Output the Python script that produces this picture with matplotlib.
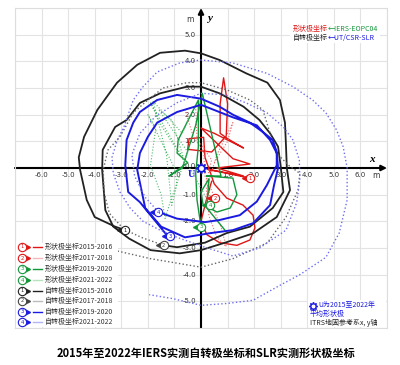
import matplotlib
matplotlib.use('Agg')
import matplotlib.pyplot as plt
from matplotlib.lines import Line2D
from matplotlib.patches import Rectangle
import matplotlib.transforms as mtransforms

plt.rcParams['font.family'] = ['Noto Sans CJK SC', 'DejaVu Sans']

# ---------------- data (metres) ----------------
x_ticks = [-6, -5, -4, -3, -2, -1, 1, 2, 3, 4, 5, 6]
y_ticks = [5, 4, 3, 2, 1, 0, -1, -2, -3, -4, -5]

# shape pole (SLR)
shape_1516_x = [1.84, 0.25, 1.6, 0.6, 1.84, 1.2, 0.0, 0.5, 1.6, 1.0, 0.72, 0.72, 0.85, 1.0, 0.95, 0.4, -0.5, -0.45, 0.1, 0.15, 0.5, 0.97, 1.58, 1.96, 2.03, 1.84, 1.35, 0.7, 0.22, 0.0, 0.2, 0.4]
shape_1516_y = [-0.38, -0.05, -0.3, 0.0, 0.15, 0.35, 1.5, 1.3, 0.75, 1.1, 1.3, 2.4, 3.38, 2.4, 1.2, 0.6, 0.7, 1.1, 1.15, 0.4, -0.6, -1.13, -1.39, -1.77, -2.25, -2.7, -2.9, -2.8, -2.5, -2.0, -1.2, -0.5]
shape_1718_x = [0.53, 0.15, 0.1, -0.3, -0.6, -0.2, -0.15, 0.4, 0.2, 0.45, 0.75, 0.95, 0.6, 0.3, 0.2, 0.6, 1.2, 1.0, 0.5]
shape_1718_y = [-1.13, -0.3, 0.6, 1.2, 2.2, 2.3, 1.1, 0.3, -0.5, -1.5, -2.2, -2.95, -2.6, -1.8, -0.8, 0.5, 1.7, 1.0, 0.2]
shape_1920_x = [0.0, -0.15, -0.2, -0.1, -0.1, -0.53, -0.86, -0.9, -0.5, -1.2, -0.7, -0.2, 0.05, 0.6, 0.75, 0.2, 1.2, 1.35, 1.1, 0.6, 0.08, 0.0, 0.3, 0.22, 0.9]
shape_1920_y = [-2.2, -1.2, -0.2, 0.8, 2.55, 1.7, 1.05, 0.56, 0.2, -0.3, 0.0, 1.6, 2.8, 0.4, -0.3, -0.3, -0.38, -1.0, -1.5, -1.65, -1.39, -0.9, -0.4, -1.5, -2.33]
shape_2122_x = [0.34, -0.3, -1.0, -1.9, -1.5, -0.6, -1.1, -1.6, -0.5, -1.2, -1.35, -1.5, -1.9, -1.7, -2.0, -1.0, -0.9, -1.1, -1.3, -1.8, -0.7, -0.4]
shape_2122_y = [-1.39, -0.2, 0.9, 2.44, 1.6, 0.2, 1.8, 2.2, 0.6, -1.4, -1.9, -1.0, 0.1, 1.5, 2.0, 0.0, -0.6, -1.4, 0.5, 2.5, 1.3, 2.0]

# rotation pole (IERS)
rot_1516_x = [-2.85, -3.23, -4.0, -4.3, -4.55, -4.6, -4.4, -3.9, -3.16, -2.4, -1.54, -0.6, 0.0, 0.7, 1.7, 2.5, 2.97, 3.16, 3.2, 3.23, 3.35, 2.85, 1.96, 0.97, 0.0, -0.8, -1.9, -2.7, -3.3, -3.6, -3.72, -3.7, -3.23, -2.8, -2.3, -1.54, -0.53, 0.0, 0.7, 1.6, 2.2, 2.6, 2.9, 3.0, 3.1, 2.7, 1.84, 0.97, 0.15, -0.9, -1.4]
rot_1516_y = [-2.33, -2.2, -1.84, -1.2, -0.07, 0.4, 1.17, 2.18, 3.2, 3.87, 4.32, 4.4, 4.3, 4.05, 3.55, 3.2, 2.55, 1.7, 0.8, 0.0, -0.83, -1.84, -2.45, -2.78, -3.08, -3.2, -3.08, -2.65, -2.2, -1.58, -0.07, 0.68, 1.54, 1.8, 2.44, 2.8, 3.05, 3.05, 2.8, 2.3, 1.8, 1.3, 0.8, 0.05, -0.9, -1.5, -2.2, -2.44, -2.8, -2.97, -2.9]
rot_1718_x = [-1.4, -2.2, -2.9, -3.45, -3.65, -3.68, -3.5, -3.05, -2.55, -2.0, -1.43, -0.53, 0.0, 0.97, 1.84, 2.33, 2.6, 2.8, 3.3, 3.72, 3.65, 3.2, 2.5, 1.2, 0.0, -1.9, -3.2, -3.8]
rot_1718_y = [-2.9, -2.62, -2.3, -1.7, -0.9, -0.07, 0.68, 1.17, 2.07, 2.55, 3.0, 3.2, 3.2, 2.93, 2.55, 2.18, 1.3, 0.6, 0.1, -0.2, -0.83, -1.84, -2.8, -3.4, -3.72, -3.4, -3.1, -2.97]
rot_1920_x = [-1.17, -1.35, -1.65, -1.9, -2.3, -2.74, -2.85, -2.8, -2.55, -2.3, -1.65, -0.9, 0.0, 0.7, 1.2, 1.84, 2.33, 2.7, 2.85, 2.9, 2.75, 2.6, 1.96, 1.2, 0.3, -0.6, -1.5, -2.1, -2.4, -2.3, -2.0, -1.65, -0.9, 0.0, 1.2, 2.1, 2.6, 2.85, 2.85, 2.48, 2.1, 1.46, 0.7, 0.15, -0.9, -1.6]
rot_1920_y = [-2.55, -2.44, -2.07, -1.77, -1.28, -0.9, 0.1, 1.05, 1.7, 2.1, 2.55, 2.74, 2.6, 2.3, 2.0, 1.7, 1.35, 1.05, 0.6, 0.0, -0.64, -1.39, -2.07, -2.33, -2.45, -2.6, -2.2, -1.5, -0.07, 0.56, 1.17, 1.7, 2.1, 2.37, 1.9, 1.6, 1.05, 0.56, 0.1, -0.64, -1.26, -1.77, -1.95, -2.03, -1.9, -1.65]
rot_2122_x = [-1.6, -2.1, -2.5, -2.6, -2.3, -1.7, -0.9, 0.0, 0.9, 1.7, 2.48, 3.1, 3.46, 3.7, 3.72, 3.6, 3.2, 2.2, 1.2, 0.08, -0.9, -1.54, -2.18, -2.67, -3.05, -3.3, -3.35, -3.15, -2.9, -2.55, -2.18, -1.65, -0.8, 0.0, 1.2, 2.48, 3.46, 4.2, 4.7, 5.1, 5.35, 5.5, 5.5, 5.2, 4.7, 3.72, 2.97, 1.96, 0.97, 0.0, -1.05, -1.95]
rot_2122_y = [-1.65, -1.1, -0.3, 0.5, 1.3, 1.95, 2.45, 2.8, 2.75, 2.44, 2.07, 1.54, 1.05, 0.3, -0.45, -1.3, -2.33, -3.0, -3.3, -2.95, -2.6, -2.33, -2.0, -1.5, -0.9, -0.2, 0.4, 1.05, 1.54, 2.55, 3.05, 3.6, 3.94, 4.05, 3.94, 3.55, 3.05, 2.55, 2.07, 1.43, 0.8, 0.0, -1.2, -2.44, -3.35, -4.0, -4.4, -4.96, -5.08, -5.15, -4.9, -4.75]

legend_labels = ['形状极坐标2015-2016', '形状极坐标2017-2018', '形状极坐标2019-2020', '形状极坐标2021-2022',
                 '自转极坐标2015-2016', '自转极坐标2017-2018', '自转极坐标2019-2020', '自转极坐标2021-2022']
marker_numbers = ['1', '2', '3', '4', '1', '2', '3', '4']

series = [
    (shape_1516_x, shape_1516_y, '#e01515', '-', 1.0, '#e01515', '#e01515'),
    (shape_1718_x, shape_1718_y, '#ec6a6a', ':', 0.8, '#f4b8b8', '#e01515'),
    (shape_1920_x, shape_1920_y, '#13963a', '-', 1.0, '#13963a', '#13963a'),
    (shape_2122_x, shape_2122_y, '#4fb86a', ':', 0.8, '#b6e2c0', '#13963a'),
    (rot_1516_x, rot_1516_y, '#222222', '-', 1.3, '#222222', '#222222'),
    (rot_1718_x, rot_1718_y, '#666666', ':', 1.0, '#bbbbbb', '#444444'),
    (rot_1920_x, rot_1920_y, '#1a1ae0', '-', 1.4, '#1a1ae0', '#1a1ae0'),
    (rot_2122_x, rot_2122_y, '#6f6ff0', ':', 1.0, '#b5b5f5', '#1a1ae0'),
]

W, H = 400, 365
fig = plt.figure(figsize=(W / 100, H / 100), dpi=100)
ax = fig.add_axes([15 / W, 1 - 328 / H, 372 / W, 320 / H])
ax.set_xlim(-7, 7)
ax.set_ylim(-6, 6)
ax.set_xticks(range(-7, 8))
ax.set_yticks(range(-6, 7))
ax.tick_params(length=0, labelbottom=False, labelleft=False)
ax.grid(True, color='#e3e3e3', lw=0.8, zorder=0)
ax.set_axisbelow(True)
for s in ax.spines.values():
    s.set_color('#dddddd')
    s.set_linewidth(0.8)

# axes lines with arrows
ax.annotate('', xy=(7, 0), xytext=(-7, 0),
            arrowprops=dict(arrowstyle='-|>', lw=1.5, color='black', mutation_scale=8, shrinkA=0, shrinkB=0), zorder=2)
ax.annotate('', xy=(0, 6), xytext=(0, -6),
            arrowprops=dict(arrowstyle='-|>', lw=1.5, color='black', mutation_scale=8, shrinkA=0, shrinkB=0), zorder=2)

tfs = 5
for t in x_ticks:
    ax.text(t, -0.27, f'{t:.1f}', ha='center', va='center', fontsize=tfs, color='#333333', family='DejaVu Sans', zorder=1)
for t in y_ticks:
    ax.text(-0.42, t + (0.08 if t == 0 else 0), f'{t:.1f}', ha='center', va='center', fontsize=tfs, color='#333333', family='DejaVu Sans', zorder=1)
ax.text(6.6, -0.27, 'm', ha='center', va='center', fontsize=5.5, color='#333333', family='DejaVu Sans')
ax.text(-0.42, 5.55, 'm', ha='center', va='center', fontsize=5.5, color='#333333', family='DejaVu Sans')
ax.text(6.45, 0.32, 'x', ha='center', va='center', fontsize=8, style='italic', weight='bold', family='Liberation Serif')
ax.text(0.32, 5.6, 'y', ha='center', va='center', fontsize=8, style='italic', weight='bold', family='Liberation Serif')

# curves
for xs, ys, c, ls, lw, lc, mc in series:
    ax.plot(xs, ys, color=c, ls=ls, lw=lw, zorder=3)

# start markers
tri_off = mtransforms.offset_copy(ax.transData, fig=fig, x=-3.6, y=0, units='points')
for (xs, ys, c, ls, lw, lc, mc), num in zip(series, marker_numbers):
    ax.plot(xs[0], ys[0], marker='<', ms=4, color=mc, transform=tri_off, zorder=5, ls='none')
    ax.plot(xs[0], ys[0], marker='o', ms=6, mfc='white', mec=mc, mew=0.8, zorder=6, ls='none')
    ax.text(xs[0], ys[0], num, ha='center', va='center', fontsize=3.8, color=mc, family='DejaVu Sans', zorder=7)

# mean shape pole U at origin
ax.plot(0, 0, marker=(8, 1, 0), ms=8, color='#1a1ae0', zorder=8, ls='none')
ax.plot(0, 0, marker='o', ms=2.5, color='white', zorder=9, ls='none')
ax.text(-0.36, -0.24, 'U', ha='center', va='center', fontsize=7.5, weight='bold', color='#1a1ae0',
        family='Liberation Serif', zorder=9)

# bottom-left legend
def fx(px):
    return px / W

def fy(py):
    return 1 - py / H

fig.patches.append(Rectangle((fx(16), fy(327)), fx(118) - fx(16), fy(243) - fy(327),
                             transform=fig.transFigure, facecolor='white', edgecolor='none', zorder=1))
rows = [247, 258, 269, 280, 290.5, 301, 311.5, 322]
for (xs, ys, c, ls, lw, lc, mc), lab, num, py in zip(series, legend_labels, marker_numbers, rows):
    fig.add_artist(Line2D([fx(26.5)], [fy(py)], marker='>', ms=4, color=mc, transform=fig.transFigure, zorder=5))
    fig.add_artist(Line2D([fx(22)], [fy(py)], marker='o', ms=6, mfc='white', mec=mc, mew=0.8,
                          transform=fig.transFigure, zorder=6))
    fig.text(fx(22), fy(py), num, ha='center', va='center', fontsize=3.8, color=mc, family='DejaVu Sans', zorder=7)
    fig.add_artist(Line2D([fx(33), fx(42)], [fy(py), fy(py)], color=lc, lw=1.0, transform=fig.transFigure, zorder=5))
    fig.text(fx(45), fy(py), lab, ha='left', va='center', fontsize=5, color='#333333', zorder=7)

# top-right legend
renderer = fig.canvas.get_renderer()
def two_part(px, py, a, ca, b, cb):
    t1 = fig.text(fx(px), fy(py), a, ha='left', va='center', fontsize=5, color=ca, zorder=7)
    bb = t1.get_window_extent(renderer=renderer)
    fig.text(bb.x1 / fig.bbox.width, fy(py), b, ha='left', va='center', fontsize=5, color=cb, zorder=7)

fig.patches.append(Rectangle((fx(290), fy(43)), fx(380) - fx(290), fy(24) - fy(43),
                             transform=fig.transFigure, facecolor='white', edgecolor='none', zorder=1))
two_part(293, 29, '形状极坐标', '#e01515', '←IERS-EOPC04', '#13963a')
two_part(293, 38, '自转极坐标', '#222222', '←UT/CSR-SLR', '#1a1ae0')

# bottom-right note
fig.patches.append(Rectangle((fx(308), fy(327)), fx(386) - fx(308), fy(300) - fy(327),
                             transform=fig.transFigure, facecolor='white', edgecolor='none', zorder=1))
fig.add_artist(Line2D([fx(313)], [fy(305.5)], marker=(8, 1, 0), ms=6, color='#1a1ae0', transform=fig.transFigure, zorder=6))
fig.add_artist(Line2D([fx(313)], [fy(305.5)], marker='o', ms=1.8, color='white', transform=fig.transFigure, zorder=7))
fig.text(fx(318), fy(305.5), 'U为2015至2022年', ha='left', va='center', fontsize=5, color='#1a1ae0', zorder=7)
fig.text(fx(310), fy(314), '平均形状极', ha='left', va='center', fontsize=5, color='#1a1ae0', zorder=7)
fig.text(fx(310), fy(323), 'ITRS地固参考系x, y轴', ha='left', va='center', fontsize=5, color='#222222', zorder=7)

# title
fig.text(206 / W, fy(353), '2015年至2022年IERS实测自转极坐标和SLR实测形状极坐标', ha='center', va='center',
         fontsize=8, weight='bold', color='black')

fig.savefig('out.png', dpi=100, facecolor='white')
